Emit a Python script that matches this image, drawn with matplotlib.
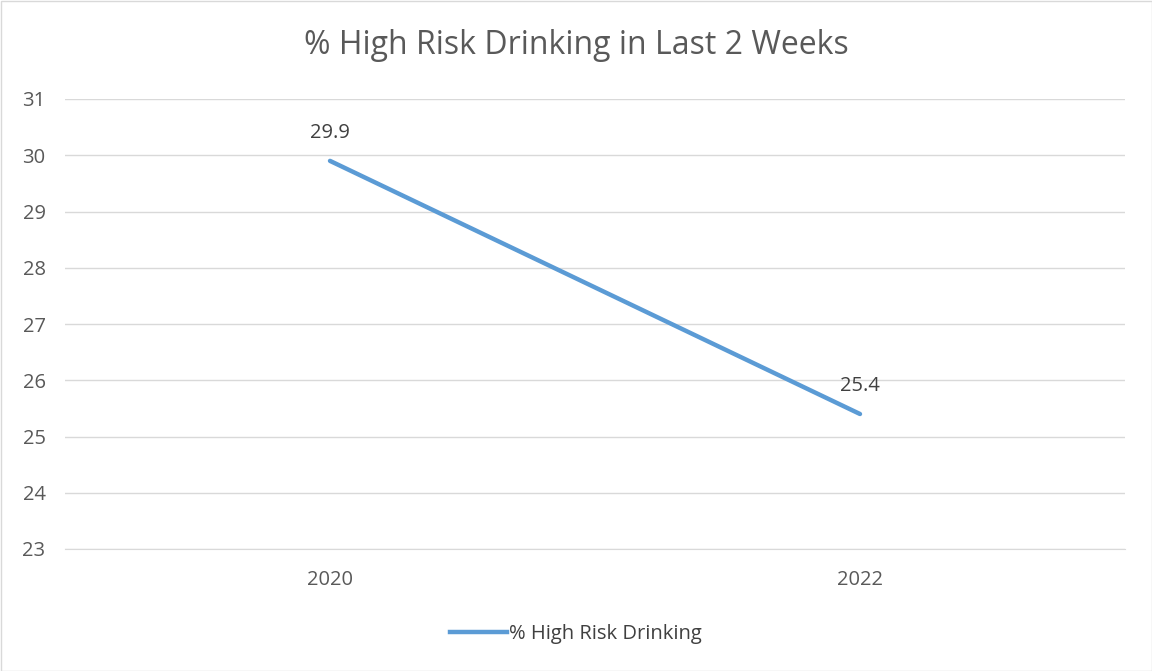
import matplotlib.pyplot as plt
from matplotlib.lines import Line2D

years = ['2020', '2022']
values = [29.9, 25.4]
series_name = '% High Risk Drinking'

text_col = '#595959'
line_col = '#5B9BD5'
grid_col = '#D9D9D9'

plt.rcParams['font.family'] = ['Open Sans', 'DejaVu Sans']

fig = plt.figure(figsize=(11.52, 6.71), dpi=100)
ax = fig.add_axes([65 / 1152, 1 - 549 / 671, (1125 - 65) / 1152, (549 - 99) / 671])

x = list(range(len(years)))
ax.plot(x, values, color=line_col, linewidth=3.2, solid_capstyle='round')
for xi, v in zip(x, values):
    ax.annotate(f'{v}', (xi, v), xytext=(0, 13), textcoords='offset points',
                ha='center', va='bottom', fontsize=14.5, color='#404040')

ax.set_xlim(-0.5, len(years) - 0.5)
ax.set_ylim(23, 31)
ax.set_yticks(range(23, 32))
ax.set_xticks(x)
ax.set_xticklabels(years)
ax.tick_params(axis='both', length=0, labelsize=14.5, colors=text_col)
ax.tick_params(axis='y', pad=14)
ax.tick_params(axis='x', pad=15)
ax.grid(axis='y', color=grid_col, linewidth=1)
ax.set_axisbelow(True)
for s in ['top', 'right', 'left']:
    ax.spines[s].set_visible(False)
ax.spines['bottom'].set_color(grid_col)

fig.text(0.5, 1 - 45 / 671, '% High Risk Drinking in Last 2 Weeks', ha='center', va='center',
         fontsize=23, color=text_col)

handle = Line2D([], [], color=line_col, linewidth=3.2)
fig.legend([handle], [series_name], loc='center', bbox_to_anchor=(0.5, 1 - 634 / 671),
           frameon=False, fontsize=14.5, labelcolor='#404040', handlelength=2.8, handletextpad=0.1)

fig.patches.append(plt.Rectangle((0.5 / 1152, 0.5 / 671), 1 - 1 / 1152, 1 - 1 / 671,
                                 transform=fig.transFigure, fill=False, edgecolor='#D9D9D9', linewidth=1))

fig.savefig('out.png', dpi=100)
